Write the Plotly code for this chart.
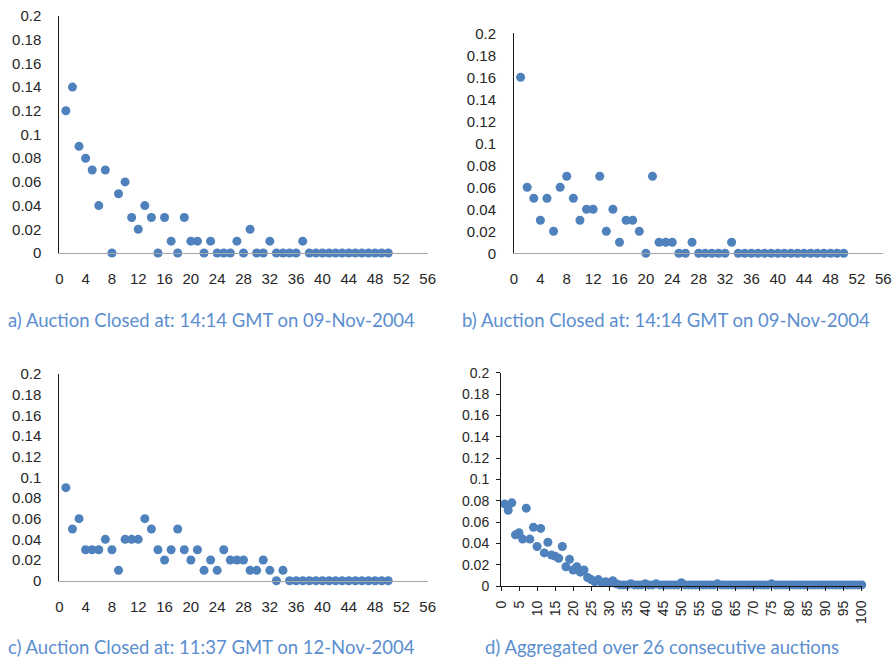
import plotly.graph_objects as go

W, H = 893, 661

# ---------------- data ----------------
x_a = list(range(1, 51))
y_a = [0.12, 0.14, 0.09, 0.08, 0.07, 0.04, 0.07, 0.0, 0.05, 0.06,
       0.03, 0.02, 0.04, 0.03, 0.0, 0.03, 0.01, 0.0, 0.03, 0.01,
       0.01, 0.0, 0.01, 0.0, 0.0, 0.0, 0.01, 0.0, 0.02, 0.0,
       0.0, 0.01, 0.0, 0.0, 0.0, 0.0, 0.01, 0.0, 0.0, 0.0,
       0.0, 0.0, 0.0, 0.0, 0.0, 0.0, 0.0, 0.0, 0.0, 0.0]

x_b = list(range(1, 51))
y_b = [0.16, 0.06, 0.05, 0.03, 0.05, 0.02, 0.06, 0.07, 0.05, 0.03,
       0.04, 0.04, 0.07, 0.02, 0.04, 0.01, 0.03, 0.03, 0.02, 0.0,
       0.07, 0.01, 0.01, 0.01, 0.0, 0.0, 0.01, 0.0, 0.0, 0.0,
       0.0, 0.0, 0.01, 0.0, 0.0, 0.0, 0.0, 0.0, 0.0, 0.0,
       0.0, 0.0, 0.0, 0.0, 0.0, 0.0, 0.0, 0.0, 0.0, 0.0]

x_c = list(range(1, 51))
y_c = [0.09, 0.05, 0.06, 0.03, 0.03, 0.03, 0.04, 0.03, 0.01, 0.04,
       0.04, 0.04, 0.06, 0.05, 0.03, 0.02, 0.03, 0.05, 0.03, 0.02,
       0.03, 0.01, 0.02, 0.01, 0.03, 0.02, 0.02, 0.02, 0.01, 0.01,
       0.02, 0.01, 0.0, 0.01, 0.0, 0.0, 0.0, 0.0, 0.0, 0.0,
       0.0, 0.0, 0.0, 0.0, 0.0, 0.0, 0.0, 0.0, 0.0, 0.0]

x_d = list(range(1, 101))
y_d = [0.077, 0.071, 0.078, 0.048, 0.050, 0.044, 0.073, 0.044, 0.055, 0.037,
       0.054, 0.031, 0.041, 0.029, 0.028, 0.026, 0.037, 0.018, 0.025, 0.015,
       0.018, 0.013, 0.015, 0.008, 0.006, 0.004, 0.006, 0.003, 0.004, 0.003,
       0.005, 0.002, 0.001, 0.001, 0.001, 0.002, 0.001, 0.001, 0.001, 0.002,
       0.001, 0.001, 0.002, 0.001, 0.001, 0.001, 0.001, 0.001, 0.001, 0.003,
       0.001, 0.001, 0.001, 0.001, 0.001, 0.001, 0.001, 0.001, 0.001, 0.002,
       0.001, 0.001, 0.001, 0.001, 0.001, 0.001, 0.001, 0.001, 0.001, 0.001,
       0.001, 0.001, 0.001, 0.001, 0.002, 0.001, 0.001, 0.001, 0.001, 0.001,
       0.001, 0.001, 0.001, 0.001, 0.001, 0.001, 0.001, 0.001, 0.001, 0.001,
       0.001, 0.001, 0.001, 0.001, 0.001, 0.001, 0.001, 0.001, 0.001, 0.001]

y_tick_vals = [0, 0.02, 0.04, 0.06, 0.08, 0.1, 0.12, 0.14, 0.16, 0.18, 0.2]
y_tick_labels = ["0", "0.02", "0.04", "0.06", "0.08", "0.1", "0.12", "0.14", "0.16", "0.18", "0.2"]
x_tick_vals_50 = list(range(0, 57, 4))
x_tick_vals_100 = list(range(0, 101, 5))

captions = [
    "a) Auction Closed at: 14:14 GMT on 09-Nov-2004",
    "b) Auction Closed at: 14:14 GMT on 09-Nov-2004",
    "c) Auction Closed at: 11:37 GMT on 12-Nov-2004",
    "d) Aggregated over 26 consecutive auctions",
]

# ---------------- layout helpers ----------------
def xd(l, r):
    return [l / W, r / W]

def yd(top, bottom):
    return [1 - bottom / H, 1 - top / H]

MARK = "#4F81BD"
TICKFONT = dict(family="Liberation Sans, Arial, sans-serif", size=15, color="#262626")
TICKFONT_D = dict(family="Liberation Sans, Arial, sans-serif", size=14, color="#262626")

fig = go.Figure()

panels = [
    (x_a, y_a, "x", "y"),
    (x_b, y_b, "x2", "y2"),
    (x_c, y_c, "x3", "y3"),
    (x_d, y_d, "x4", "y4"),
]
for xs, ys, xa, ya in panels:
    fig.add_trace(go.Scatter(
        x=xs, y=ys, xaxis=xa, yaxis=ya, mode="markers",
        marker=dict(color=MARK, size=9, line=dict(width=0)),
        cliponaxis=False, showlegend=False, hoverinfo="x+y",
    ))

def std_x(dom, yanchor):
    return dict(domain=dom, range=[0, 56], tickvals=x_tick_vals_50, showgrid=False,
                zeroline=False, showline=True, linecolor="#A6A6A6", linewidth=1,
                ticks="", tickfont=TICKFONT, ticklabelstandoff=12, anchor=yanchor,
                fixedrange=True, automargin=False)

def std_y(dom, xanchor):
    return dict(domain=dom, range=[0, 0.2], tickvals=y_tick_vals, ticktext=y_tick_labels,
                showgrid=False, zeroline=False, showline=True, linecolor="#1a1a1a",
                linewidth=1, ticks="", tickfont=TICKFONT, ticklabelstandoff=14,
                anchor=xanchor, fixedrange=True, automargin=False)

layout = dict(
    width=W, height=H, margin=dict(l=0, r=0, t=0, b=0, autoexpand=False),
    paper_bgcolor="white", plot_bgcolor="white",
    xaxis=std_x(xd(59.3, 427.7), "y"),
    yaxis=std_y(yd(16, 253), "x"),
    xaxis2=std_x(xd(514, 883.3), "y2"),
    yaxis2=std_y(yd(33.3, 253.3), "x2"),
    xaxis3=std_x(xd(59.3, 427.7), "y3"),
    yaxis3=std_y(yd(374, 580.7), "x3"),
    xaxis4=dict(domain=xd(501, 861.7), range=[0, 100], tickvals=x_tick_vals_100,
                showgrid=False, zeroline=False, showline=True, linecolor="#1a1a1a",
                linewidth=1, ticks="outside", ticklen=4, tickcolor="#1a1a1a",
                tickangle=-90, tickfont=TICKFONT_D, ticklabelstandoff=4,
                anchor="y4", fixedrange=True, automargin=False),
    yaxis4=dict(domain=yd(372.7, 586), range=[0, 0.2], tickvals=y_tick_vals,
                ticktext=y_tick_labels, showgrid=False, zeroline=False, showline=True,
                linecolor="#1a1a1a", linewidth=1, ticks="outside", ticklen=4,
                tickcolor="#1a1a1a", tickfont=TICKFONT_D, ticklabelstandoff=4,
                anchor="x4", fixedrange=True, automargin=False),
)
fig.update_layout(**layout)

cap_font = dict(family="Lato, Open Sans, sans-serif", size=18.5, color="#5B8ED0")
cap_pos = [(6, 320), (460, 320), (6, 647), (483, 647)]
for text, (px, py) in zip(captions, cap_pos):
    fig.add_annotation(text=text, xref="paper", yref="paper",
                       x=px / W, y=1 - py / H, xanchor="left", yanchor="middle",
                       showarrow=False, font=cap_font)

fig.write_html("out.html")
